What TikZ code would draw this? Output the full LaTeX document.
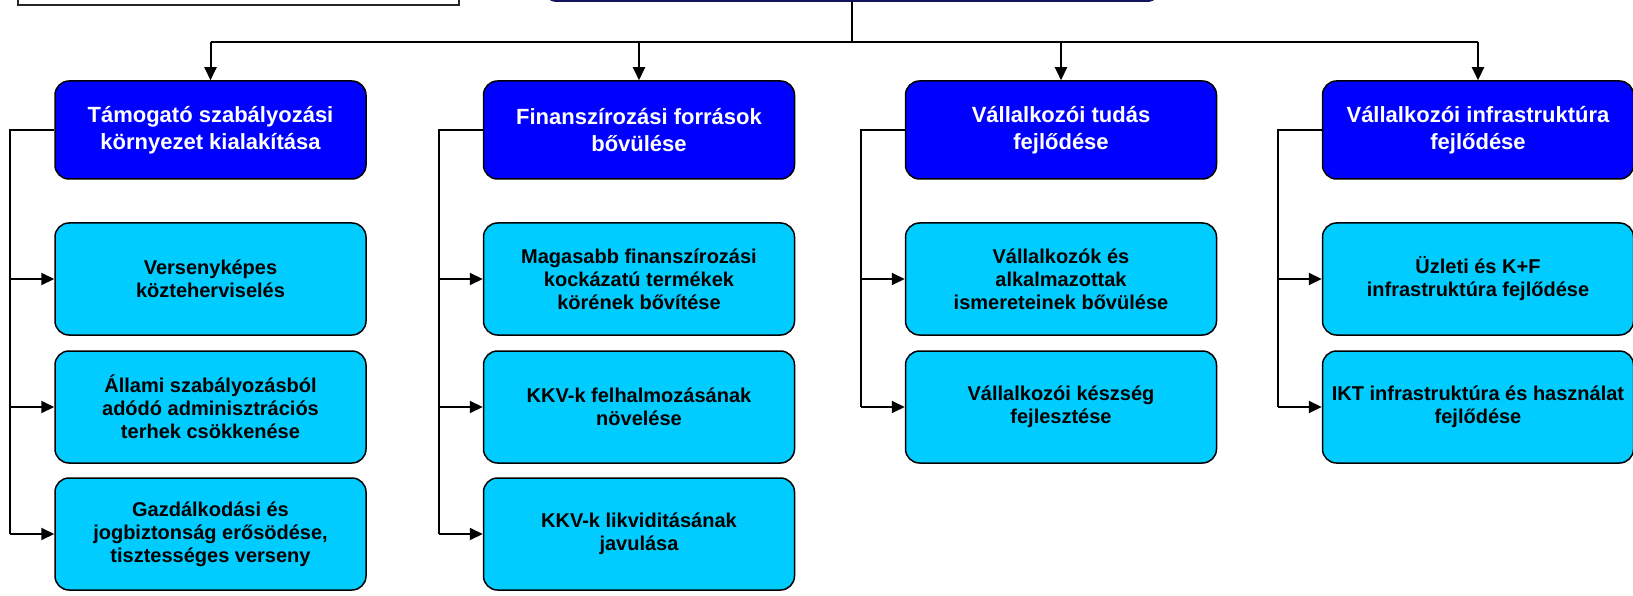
\documentclass[tikz,border=0pt]{standalone}
\usepackage{fontspec}
\setmainfont{Liberation Sans}
\usetikzlibrary{arrows.meta}

\definecolor{goalblue}{RGB}{0,0,255}
\definecolor{subcyan}{RGB}{0,204,255}
\definecolor{rootnavy}{RGB}{20,20,90}

\begin{document}
\begin{tikzpicture}[x=1pt,y=-1pt,
    goal/.style={rectangle, draw, line width=1.5pt, rounded corners=14pt, fill=goalblue,
      text=white, align=center, minimum width=311pt, minimum height=98pt,
      font=\fontsize{22}{27}\selectfont\bfseries},
    sub/.style={goal, fill=subcyan, text=black, minimum height=112pt,
      font=\fontsize{20}{23}\selectfont\bfseries},
    bus/.style={line width=2pt},
    feed/.style={line width=2pt, -{Triangle[length=13pt,width=12pt]}}
    ]
    \useasboundingbox (0,0) rectangle (1633,596);
    % cut off at the top
    \node[rectangle, draw=black!85, line width=1.5pt, fill=white, minimum width=441pt, minimum height=70pt] (note) at (238.5,-30) {};
    \node[rectangle, draw=rootnavy, line width=2pt, rounded corners=14pt, fill=goalblue, minimum width=618pt, minimum height=84pt] (root) at (852,-41) {};

    \node[goal] (g1) at (210.5,130) {Támogató szabályozási\\környezet kialakítása};
    \node[goal] (g2) at (639,130) {Finanszírozási források\\bővülése};
    \node[goal] (g3) at (1061,130) {Vállalkozói tudás\\fejlődése};
    \node[goal] (g4) at (1478,130) {Vállalkozói infrastruktúra\\fejlődése};

    \node[sub] (g1a) at (210.5,279) {Versenyképes\\közteherviselés};
    \node[sub] (g1b) at (210.5,407) {Állami szabályozásból\\adódó adminisztrációs\\terhek csökkenése};
    \node[sub] (g1c) at (210.5,534) {Gazdálkodási és\\jogbiztonság erősödése,\\tisztességes verseny};
    \node[sub] (g2a) at (639,279) {Magasabb finanszírozási\\kockázatú termékek\\körének bővítése};
    \node[sub] (g2b) at (639,407) {KKV-k felhalmozásának\\növelése};
    \node[sub] (g2c) at (639,534) {KKV-k likviditásának\\javulása};
    \node[sub] (g3a) at (1061,279) {Vállalkozók és\\alkalmazottak\\ismereteinek bővülése};
    \node[sub] (g3b) at (1061,407) {Vállalkozói készség\\fejlesztése};
    \node[sub] (g4a) at (1478,279) {Üzleti és K+F\\infrastruktúra fejlődése};
    \node[sub] (g4b) at (1478,407) {IKT infrastruktúra és használat\\fejlődése};

    \coordinate (top) at (0,42);
    \draw[bus] (root.south) -- (root.south |- top);
    \draw[bus] (g1.north |- top) -- (g4.north |- top);
    \foreach \g in {g1,g2,g3,g4}
      \draw[feed] (\g.north |- top) -- (\g.north);

    \foreach \g/\last in {g1/g1c, g2/g2c, g3/g3b, g4/g4b}{
      \draw[bus] (\g.west) -- ++(-44,0) coordinate (\g side) -- (\g side |- \last.west);
    }
    \foreach \g/\s in {g1/g1a, g1/g1b, g1/g1c, g2/g2a, g2/g2b, g2/g2c, g3/g3a, g3/g3b, g4/g4a, g4/g4b}
      \draw[feed] (\g side |- \s.west) -- (\s.west);
\end{tikzpicture}
\end{document}
